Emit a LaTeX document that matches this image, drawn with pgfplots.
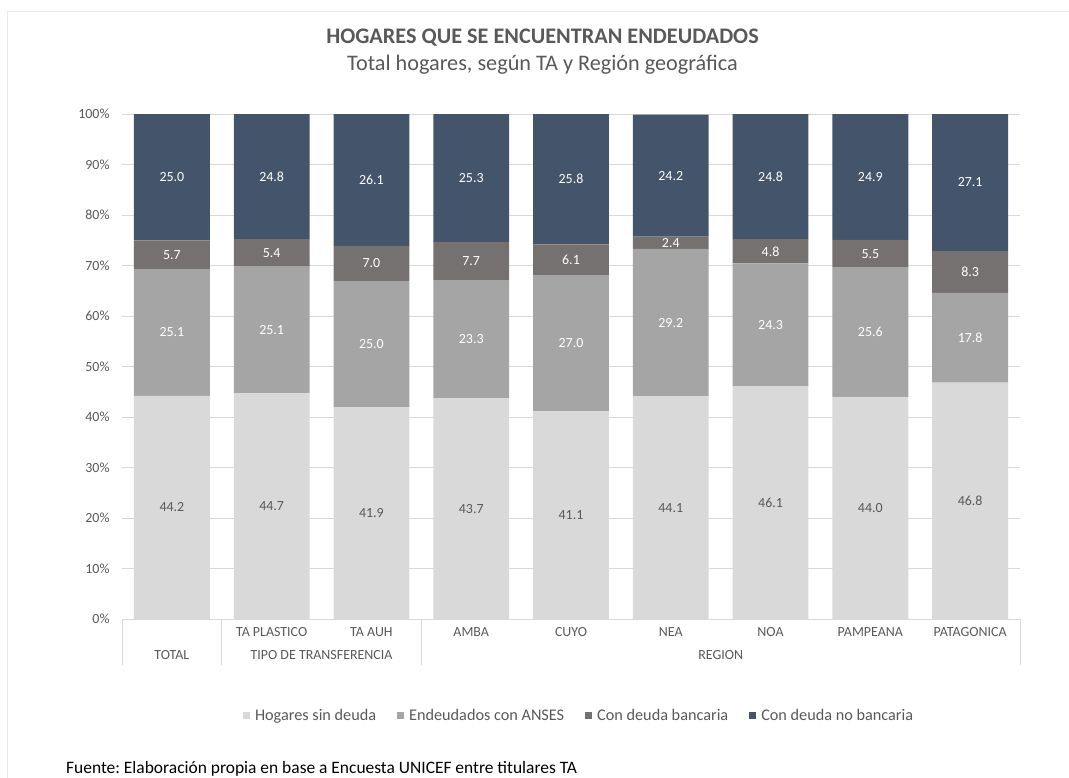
\documentclass[border=0pt]{standalone}
\usepackage{fontspec}
\setmainfont{Carlito}
\usepackage{pgfplots}
\pgfplotsset{compat=1.18}
\usepackage{pgfplotstable}
\frenchspacing

\definecolor{cL}{HTML}{D9D9D9}
\definecolor{cM}{HTML}{A5A5A5}
\definecolor{cD}{HTML}{767171}
\definecolor{cN}{HTML}{44546A}
\definecolor{txt}{HTML}{595959}
\definecolor{gridc}{HTML}{D9D9D9}

\pgfplotstableread{
x a b c d
0 44.2 25.1 5.7 25.0
1 44.7 25.1 5.4 24.8
2 41.9 25.0 7.0 26.1
3 43.7 23.3 7.7 25.3
4 41.1 27.0 6.1 25.8
5 44.1 29.2 2.4 24.2
6 46.1 24.3 4.8 24.8
7 44.0 25.6 5.5 24.9
8 46.8 17.8 8.3 27.1
}\data

\begin{document}
\begin{tikzpicture}
\useasboundingbox (0,0) rectangle (1069bp,-778bp);
\draw[color=black!8, line width=0.75bp] (7.5bp,-778bp) -- (7.5bp,-11.5bp) -- (1069bp,-11.5bp);
\node[font=\bfseries\fontsize{22.3}{26}\selectfont, text=txt, anchor=base, inner sep=0] at (542.5bp,-43.5bp) {HOGARES QUE SE ENCUENTRAN ENDEUDADOS};
\node[font=\fontsize{22.3}{26}\selectfont, text=txt, anchor=base, inner sep=0] at (542.5bp,-70bp) {Total hogares, según TA y Región geográfica};
\begin{axis}[
  at={(122bp,-619bp)}, anchor=south west,
  scale only axis, width=898bp, height=505bp,
  ybar stacked, bar width=0.76,
  xmin=-0.5, xmax=8.5, ymin=0, ymax=100,
  clip=false,
  axis x line*=bottom, axis y line*=left,
  x axis line style={draw=gridc, line width=0.75bp},
  y axis line style={draw=none},
  major tick length=0pt,
  xtick={0,...,8},
  xticklabels={,TA PLASTICO,TA AUH,AMBA,CUYO,NEA,NOA,PAMPEANA,PATAGONICA},
  ytick={0,10,...,100},
  yticklabel={\pgfmathprintnumber{\tick}\%},
  ymajorgrids, grid style={draw=gridc, line width=0.75bp},
  tick label style={font=\fontsize{14}{16}\selectfont, text=txt},
  xticklabel style={anchor=base, yshift=-17.5bp},
  yticklabel style={anchor=east, xshift=-9bp},
  /pgf/number format/assume math mode=true,
  visualization depends on={rawy \as \myv},
  nodes near coords={\pgfmathprintnumber[fixed,fixed zerofill,precision=1]{\myv}},
  every node near coord/.append style={font=\fontsize{14}{16}\selectfont, anchor=center},
  legend style={at={(axis description cs:0.509,-0.192)}, anchor=center, draw=none, fill=none,
    legend columns=-1, font=\fontsize{16.3}{19}\selectfont, text=txt,
    /tikz/every odd column/.append style={column sep=3bp},
    /tikz/every even column/.append style={column sep=19bp}},
  legend image code/.code={\fill[#1] (0bp,-3.5bp) rectangle (7bp,3.5bp);},
]
\addplot[fill=cL, draw=none, every node near coord/.append style={text=txt}] table[x=x, y=a]{\data};
\addlegendentry{Hogares sin deuda}
\addplot[fill=cM, draw=none, every node near coord/.append style={text=white}] table[x=x, y=b]{\data};
\addlegendentry{Endeudados con ANSES}
\addplot[fill=cD, draw=none, every node near coord/.append style={text=white}] table[x=x, y=c]{\data};
\addlegendentry{Con deuda bancaria}
\addplot[fill=cN, draw=none, every node near coord/.append style={text=white}] table[x=x, y=d]{\data};
\addlegendentry{Con deuda no bancaria}

\draw[gridc, line width=0.75bp] (axis cs:-0.5,0) -- ([yshift=-46bp]axis cs:-0.5,0);
\draw[gridc, line width=0.75bp] (axis cs:0.5,0) -- ([yshift=-46bp]axis cs:0.5,0);
\draw[gridc, line width=0.75bp] (axis cs:2.5,0) -- ([yshift=-46bp]axis cs:2.5,0);
\draw[gridc, line width=0.75bp] (axis cs:8.5,0) -- ([yshift=-46bp]axis cs:8.5,0);
\node[font=\fontsize{14}{16}\selectfont, text=txt, anchor=base, yshift=-40.5bp] at (axis cs:0,0) {TOTAL};
\node[font=\fontsize{14}{16}\selectfont, text=txt, anchor=base, yshift=-40.5bp] at (axis cs:1.5,0) {TIPO DE TRANSFERENCIA};
\node[font=\fontsize{14}{16}\selectfont, text=txt, anchor=base, yshift=-40.5bp] at (axis cs:5.5,0) {REGION};
\end{axis}
\node[anchor=base west, font=\fontsize{17.5}{20}\selectfont, inner sep=0] at (66bp,-773bp) {Fuente: Elaboración propia en base a Encuesta UNICEF entre titulares TA};
\end{tikzpicture}
\end{document}
